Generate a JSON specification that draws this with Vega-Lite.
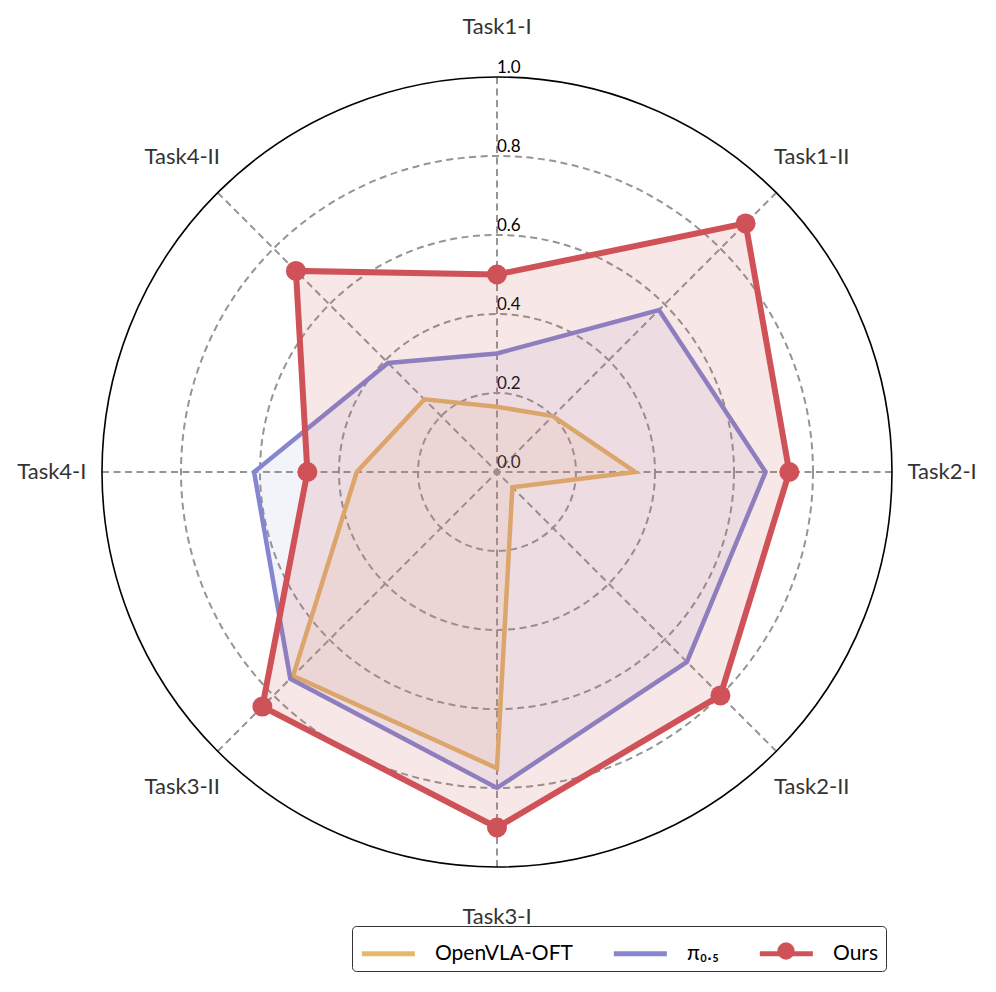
{
  "$schema": "https://vega.github.io/schema/vega-lite/v6.json",
  "width": 996,
  "height": 992,
  "padding": 0,
  "autosize": {"type": "none"},
  "background": "white",
  "config": {"view": {"stroke": null}, "font": "Lato"},
  "datasets": {
    "scores": [
      {"model": "OpenVLA-OFT", "task": "Task1-I", "i": 0, "v": 0.165},
      {"model": "OpenVLA-OFT", "task": "Task1-II", "i": 1, "v": 0.20},
      {"model": "OpenVLA-OFT", "task": "Task2-I", "i": 2, "v": 0.35},
      {"model": "OpenVLA-OFT", "task": "Task2-II", "i": 3, "v": 0.055},
      {"model": "OpenVLA-OFT", "task": "Task3-I", "i": 4, "v": 0.75},
      {"model": "OpenVLA-OFT", "task": "Task3-II", "i": 5, "v": 0.73},
      {"model": "OpenVLA-OFT", "task": "Task4-I", "i": 6, "v": 0.355},
      {"model": "OpenVLA-OFT", "task": "Task4-II", "i": 7, "v": 0.26},
      {"model": "pi0.5", "task": "Task1-I", "i": 0, "v": 0.30},
      {"model": "pi0.5", "task": "Task1-II", "i": 1, "v": 0.58},
      {"model": "pi0.5", "task": "Task2-I", "i": 2, "v": 0.68},
      {"model": "pi0.5", "task": "Task2-II", "i": 3, "v": 0.68},
      {"model": "pi0.5", "task": "Task3-I", "i": 4, "v": 0.80},
      {"model": "pi0.5", "task": "Task3-II", "i": 5, "v": 0.74},
      {"model": "pi0.5", "task": "Task4-I", "i": 6, "v": 0.615},
      {"model": "pi0.5", "task": "Task4-II", "i": 7, "v": 0.39},
      {"model": "Ours", "task": "Task1-I", "i": 0, "v": 0.50},
      {"model": "Ours", "task": "Task1-II", "i": 1, "v": 0.89},
      {"model": "Ours", "task": "Task2-I", "i": 2, "v": 0.74},
      {"model": "Ours", "task": "Task2-II", "i": 3, "v": 0.80},
      {"model": "Ours", "task": "Task3-I", "i": 4, "v": 0.90},
      {"model": "Ours", "task": "Task3-II", "i": 5, "v": 0.84},
      {"model": "Ours", "task": "Task4-I", "i": 6, "v": 0.48},
      {"model": "Ours", "task": "Task4-II", "i": 7, "v": 0.72}
    ],
    "axes": [
      {"task": "Task1-I", "i": 0},
      {"task": "Task1-II", "i": 1},
      {"task": "Task2-I", "i": 2},
      {"task": "Task2-II", "i": 3},
      {"task": "Task3-I", "i": 4},
      {"task": "Task3-II", "i": 5},
      {"task": "Task4-I", "i": 6},
      {"task": "Task4-II", "i": 7}
    ],
    "rings": [
      {"r": 0.0}, {"r": 0.2}, {"r": 0.4}, {"r": 0.6}, {"r": 0.8}, {"r": 1.0}
    ]
  },
  "layer": [
    {
      "data": {"name": "rings"},
      "transform": [{"filter": "datum.r > 0 && datum.r < 1"}],
      "mark": {"type": "point", "shape": "circle", "filled": false, "opacity": 1, "stroke": "#959595", "strokeWidth": 2, "strokeDash": [7, 4.5]},
      "encoding": {
        "x": {"datum": 0, "type": "quantitative", "scale": {"domain": [-1.2582, 1.2633], "nice": false, "zero": false}, "axis": null},
        "y": {"datum": 0, "type": "quantitative", "scale": {"domain": [-1.3165, 1.1949], "nice": false, "zero": false}, "axis": null},
        "size": {"field": "r", "type": "quantitative", "scale": {"type": "pow", "exponent": 2, "domain": [0, 1], "range": [0, 624100], "zero": true, "nice": false}, "legend": null}
      }
    },
    {
      "data": {"name": "axes"},
      "transform": [
        {"calculate": "sin(datum.i * PI / 4)", "as": "sx"},
        {"calculate": "cos(datum.i * PI / 4)", "as": "sy"}
      ],
      "mark": {"type": "rule", "stroke": "#959595", "strokeWidth": 2, "strokeDash": [7, 4.5]},
      "encoding": {
        "x": {"field": "sx", "type": "quantitative"},
        "y": {"field": "sy", "type": "quantitative"},
        "x2": {"datum": 0},
        "y2": {"datum": 0}
      }
    },
    {
      "data": {"name": "rings"},
      "transform": [{"filter": "datum.r == 1"}],
      "mark": {"type": "point", "shape": "circle", "filled": false, "opacity": 1, "stroke": "#000000", "strokeWidth": 1.6},
      "encoding": {
        "x": {"datum": 0, "type": "quantitative"},
        "y": {"datum": 0, "type": "quantitative"},
        "size": {"field": "r", "type": "quantitative"}
      }
    },
    {
      "data": {"name": "rings"},
      "mark": {"type": "text", "align": "left", "baseline": "alphabetic", "dy": -4, "dx": 0, "fontSize": 17, "color": "#000000"},
      "encoding": {
        "x": {"datum": 0, "type": "quantitative"},
        "y": {"field": "r", "type": "quantitative"},
        "text": {"field": "r", "type": "quantitative", "format": ".1f"}
      }
    },
    {
      "data": {"name": "axes"},
      "transform": [
        {"calculate": "1.127 * sin(datum.i * PI / 4)", "as": "lx"},
        {"calculate": "1.127 * cos(datum.i * PI / 4)", "as": "ly"}
      ],
      "mark": {"type": "text", "align": "center", "baseline": "middle", "fontSize": 22, "color": "#333333"},
      "encoding": {
        "x": {"field": "lx", "type": "quantitative"},
        "y": {"field": "ly", "type": "quantitative"},
        "text": {"field": "task", "type": "nominal"}
      }
    },
    {
      "data": {"name": "scores"},
      "transform": [
        {"filter": "datum.model === 'OpenVLA-OFT'"},
        {"calculate": "datum.v * sin(datum.i * PI / 4)", "as": "px"},
        {"calculate": "datum.v * cos(datum.i * PI / 4)", "as": "py"}
      ],
      "mark": {"type": "line", "interpolate": "linear-closed", "fill": "#e9b866", "fillOpacity": 0.1, "strokeWidth": 4.5},
      "encoding": {
        "x": {"field": "px", "type": "quantitative"},
        "y": {"field": "py", "type": "quantitative"},
        "order": {"field": "i", "type": "quantitative"},
        "stroke": {
          "field": "model", "type": "nominal",
          "scale": {"domain": ["OpenVLA-OFT", "pi0.5", "Ours"], "range": ["#e9b866", "#8585d0", "#cf5258"]},
          "legend": {
            "title": null,
            "orient": "none",
            "legendX": 352,
            "legendY": 926,
            "direction": "horizontal",
            "symbolType": "M-1,0L2,0",
            "symbolSize": 1250,
            "symbolStrokeWidth": 5,
            "labelFontSize": 21,
            "labelColor": "#000000",
            "labelFont": "Lato",
            "labelOffset": 35,
            "columnPadding": 30,
            "padding": 7,
            "strokeColor": "#333333",
            "cornerRadius": 4,
            "fillColor": "white",
            "labelExpr": "datum.value === 'pi0.5' ? 'π₀.₅' : datum.label"
          }
        }
      }
    },
    {
      "data": {"name": "scores"},
      "transform": [
        {"filter": "datum.model === 'pi0.5'"},
        {"calculate": "datum.v * sin(datum.i * PI / 4)", "as": "px"},
        {"calculate": "datum.v * cos(datum.i * PI / 4)", "as": "py"}
      ],
      "mark": {"type": "line", "interpolate": "linear-closed", "fill": "#8585d0", "fillOpacity": 0.1, "strokeWidth": 4.5},
      "encoding": {
        "x": {"field": "px", "type": "quantitative"},
        "y": {"field": "py", "type": "quantitative"},
        "order": {"field": "i", "type": "quantitative"},
        "stroke": {"field": "model", "type": "nominal"}
      }
    },
    {
      "data": {"name": "scores"},
      "transform": [
        {"filter": "datum.model === 'Ours'"},
        {"calculate": "datum.v * sin(datum.i * PI / 4)", "as": "px"},
        {"calculate": "datum.v * cos(datum.i * PI / 4)", "as": "py"}
      ],
      "mark": {"type": "line", "interpolate": "linear-closed", "fill": "#cf5258", "fillOpacity": 0.14, "strokeWidth": 6},
      "encoding": {
        "x": {"field": "px", "type": "quantitative"},
        "y": {"field": "py", "type": "quantitative"},
        "order": {"field": "i", "type": "quantitative"},
        "stroke": {"field": "model", "type": "nominal"}
      }
    },
    {
      "data": {"name": "scores"},
      "transform": [
        {"filter": "datum.model === 'Ours'"},
        {"calculate": "datum.v * sin(datum.i * PI / 4)", "as": "px"},
        {"calculate": "datum.v * cos(datum.i * PI / 4)", "as": "py"}
      ],
      "mark": {"type": "point", "filled": true, "opacity": 1, "size": 400, "shape": "circle", "strokeWidth": 0},
      "encoding": {
        "x": {"field": "px", "type": "quantitative"},
        "y": {"field": "py", "type": "quantitative"},
        "fill": {
          "field": "model", "type": "nominal",
          "scale": {"domain": ["Ours"], "range": ["#cf5258"]},
          "legend": {
            "title": null,
            "orient": "none",
            "legendX": 777,
            "legendY": 942,
            "symbolType": "circle",
            "symbolSize": 300,
            "symbolStrokeWidth": 0,
            "symbolOpacity": 1,
            "padding": 0,
            "labelFontSize": 1,
            "labelOffset": 0,
            "labelExpr": "''"
          }
        }
      }
    }
  ]
}
